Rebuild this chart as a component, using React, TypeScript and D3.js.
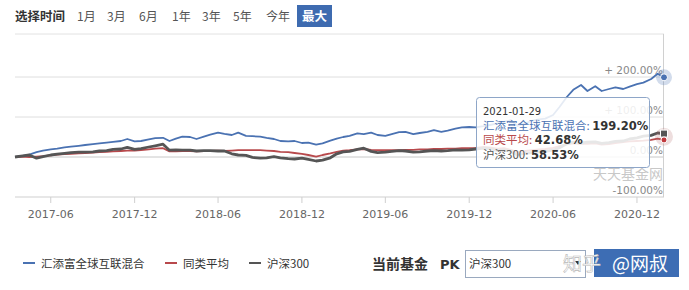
import React from "react";
import * as d3 from "d3";

const dates = [
  "2017-03-15","2017-04-01","2017-04-15","2017-05-01","2017-05-15","2017-06-01","2017-06-15","2017-07-01","2017-07-15","2017-08-01","2017-08-15","2017-09-01","2017-09-15","2017-10-01","2017-10-15","2017-11-01","2017-11-15","2017-12-01","2017-12-15",
  "2018-01-01","2018-01-15","2018-02-01","2018-02-15","2018-03-01","2018-03-15","2018-04-01","2018-04-15","2018-05-01","2018-05-15","2018-06-01","2018-06-15","2018-07-01","2018-07-15","2018-08-01","2018-08-15","2018-09-01","2018-09-15","2018-10-01","2018-10-15","2018-11-01","2018-11-15","2018-12-01","2018-12-15",
  "2019-01-01","2019-01-15","2019-02-01","2019-02-15","2019-03-01","2019-03-15","2019-04-01","2019-04-15","2019-05-01","2019-05-15","2019-06-01","2019-06-15","2019-07-01","2019-07-15","2019-08-01","2019-08-15","2019-09-01","2019-09-15","2019-10-01","2019-10-15","2019-11-01","2019-11-15","2019-12-01","2019-12-15",
  "2020-01-01","2020-01-15","2020-02-01","2020-02-15","2020-03-01","2020-03-15","2020-04-01","2020-04-15","2020-05-01","2020-05-15","2020-06-01","2020-06-15","2020-07-01","2020-07-15","2020-08-01","2020-08-15","2020-09-01","2020-09-15","2020-10-01","2020-10-15","2020-11-01","2020-11-15","2020-12-01","2020-12-15",
  "2021-01-01","2021-01-15","2021-01-29"
];

const fundValues = [
  0,3,6,12,16,19,21,24,26,28,30,32,34,36,38,40,45,39,40,
  44,47,48,40,46,51,50,45,51,56,61,58,55,61,53,52,51,48,45,40,39,40,35,36,
  31,34,41,46,50,53,59,57,61,55,53,57,62,63,57,60,63,67,63,66,71,74,75,74,
  77,80,84,88,92,78,84,90,94,96,105,125,150,168,180,165,177,165,170,174,170,176,182,186,
  195,208,199.2
];

const avgValues = [
  0,1,0,1,2,4,6,7,8,9,10,11,12,13,14,15,16,16,17,
  19,21,22,14,14,15,15,14,15,15,16,15,16,17,17,17,17,16,15,13,12,10,8,5,
  1,5,9,13,16,17,19,20,18,17,17,17,17,18,18,19,19,20,20,21,21,22,22,23,
  25,24,21,22,18,12,15,17,19,20,23,27,32,34,33,33,34,31,32,35,37,39,40,41,
  43,46,42.68
];

const hs300Values = [
  0,3,5,-3,1,5,7,9,11,12,12,13,15,16,19,20,24,19,21,
  25,28,32,17,18,17,17,15,16,16,15,15,8,5,4,-1,-3,-2,1,-2,-4,-5,-3,-6,
  -10,-8,-2,8,13,14,19,22,14,11,12,14,16,15,12,13,15,16,15,16,18,17,18,20,
  22,21,16,18,14,5,9,11,13,14,17,23,33,37,35,37,38,34,36,39,40,45,48,52,
  54,60,58.53
];

const yTicks = [200, 100, 0, -100];
const yTickLabels = ["+ 200.00%", "+ 100.00%", "0.00%", "-100.00%"];
const periodItems = ["1月", "3月", "6月", "1年", "3年", "5年", "今年"];
const periodX = [77, 107, 139, 172, 202, 233, 266];
const seriesNames = ["汇添富全球互联混合", "同类平均", "沪深300"];
const tooltipDate = "2021-01-29";
const tooltipValues = ["199.20%", "42.68%", "58.53%"];

const COLORS = ["#4a72b2", "#b8494c", "#555555"];
const CJK = '"Noto Sans CJK SC", "Microsoft YaHei", sans-serif';
const LAT = '"DejaVu Sans", "Noto Sans CJK SC", sans-serif';

export default function App() {
  const W = 689, H = 290;
  const parse = d3.timeParse("%Y-%m-%d");
  const ds = dates.map((d) => parse(d) as Date);
  const x = d3.scaleTime().domain([ds[0], ds[ds.length - 1]]).range([15, 664]);
  const y = d3.scaleLinear().domain([-100, 300]).range([197, 37]);
  const mk = (vals: number[]) =>
    d3.line<number>().x((_, i) => x(ds[i])).y((v) => y(v)).curve(d3.curveLinear)(vals) || "";
  const xTicks = d3.timeMonth.range(new Date(2017, 5, 1), new Date(2021, 0, 2), 6);
  const fmt = d3.timeFormat("%Y-%m");
  const last = ds.length - 1;
  const ex = x(ds[last]);

  return (
    <div style={{ position: "absolute", left: 0, top: 0, width: W, height: H, background: "#fff" }}>
      <svg width={W} height={H} style={{ display: "block" }}>
        <rect x={0} y={0} width={W} height={H} fill="#fff" />
        {/* period selector */}
        <text x={15} y={21} fontFamily={CJK} fontSize={12.5} fontWeight="bold" fill="#333">选择时间</text>
        {periodItems.map((p, i) => (
          <text key={p} x={periodX[i]} y={21} fontFamily={CJK} fontSize={12} fill="#555">{p}</text>
        ))}
        <rect x={297} y={5} width={35} height={22} fill="#3e6bb0" />
        <text x={314.5} y={21} textAnchor="middle" fontFamily={CJK} fontSize={12.5} fontWeight="bold" fill="#fff">最大</text>
        <line x1={15} x2={664} y1={34} y2={34} stroke="#e2e2e2" />

        {/* grid */}
        {yTicks.map((t) => (
          <line key={t} x1={15} x2={664} y1={y(t)} y2={y(t)} stroke={t === 0 ? "#c8c8c8" : t === -100 ? "#cfcfcf" : "#dedede"} strokeWidth={1} />
        ))}
        <line x1={663.5} x2={663.5} y1={34} y2={197} stroke="#d0d0d0" />
        {xTicks.map((d) => (
          <g key={+d}>
            <line x1={x(d)} x2={x(d)} y1={197} y2={203} stroke="#cfcfcf" />
            <text x={x(d)} y={218} textAnchor="middle" fontFamily={LAT} fontSize={11} fill="#666">{fmt(d)}</text>
          </g>
        ))}
        {yTicks.map((t, i) => (
          <text key={t} x={663} y={y(t) - 3.5} textAnchor="end" fontFamily={LAT} fontSize={10.5} fill="#888">{yTickLabels[i]}</text>
        ))}
        <text x={663} y={179} textAnchor="end" fontFamily={CJK} fontSize={14} fill="#c8c8c8">天天基金网</text>

        {/* series */}
        <path d={mk(fundValues)} fill="none" stroke={COLORS[0]} strokeWidth={1.8} strokeLinejoin="round" />
        <path d={mk(avgValues)} fill="none" stroke={COLORS[1]} strokeWidth={1.8} strokeLinejoin="round" />
        <path d={mk(hs300Values)} fill="none" stroke={COLORS[2]} strokeWidth={2.8} strokeLinejoin="round" />

        {/* end markers */}
        <circle cx={ex} cy={y(fundValues[last])} r={8} fill={COLORS[0]} opacity={0.25} />
        <circle cx={ex} cy={y(fundValues[last])} r={3.5} fill={COLORS[0]} stroke="#fff" strokeWidth={1} />
        <circle cx={ex} cy={(y(hs300Values[last]) + y(avgValues[last])) / 2} r={9} fill="#b06a6a" opacity={0.22} />
        <rect x={ex - 3.5} y={y(hs300Values[last]) - 3.5} width={7} height={7} fill={COLORS[2]} stroke="#fff" strokeWidth={1} />
        <circle cx={ex} cy={y(avgValues[last])} r={3} fill="#c0393d" stroke="#fff" strokeWidth={1} />

        {/* tooltip */}
        <rect x={476.5} y={97.5} width={173} height={70} rx={3} fill="#fff" fillOpacity={0.86} stroke="#8ea6c8" strokeWidth={1} />
        <text x={483} y={115} fontFamily={LAT} fontSize={10} fill="#333">{tooltipDate}</text>
        {seriesNames.map((n, i) => (
          <text key={n} x={483} y={129.5 + i * 14.5} fontFamily={CJK} fontSize={11.5}>
            <tspan fill={COLORS[i]}>{n}: </tspan>
            <tspan fill="#333" fontWeight="bold" fontFamily={LAT} fontSize={11.5}>{tooltipValues[i]}</tspan>
          </text>
        ))}

        {/* legend */}
        {seriesNames.map((n, i) => {
          const lx = [23, 165, 249][i];
          return (
            <g key={n}>
              <line x1={lx} x2={lx + 12} y1={263} y2={263} stroke={COLORS[i]} strokeWidth={2} />
              <text x={lx + 18} y={267.5} fontFamily={CJK} fontSize={11.5} fill="#333">{n}</text>
            </g>
          );
        })}
        <text x={372} y={269} fontFamily={CJK} fontSize={14} fontWeight="bold" fill="#333">当前基金</text>
        <text x={440} y={269} fontFamily={LAT} fontSize={13} fontWeight="bold" fill="#333">PK</text>
        <rect x={465.5} y={250.5} width={120} height={27} fill="#fff" stroke="#9aa9bf" />
        <text x={469} y={268} fontFamily={CJK} fontSize={11.5} fill="#333">沪深300</text>
        <path d="M575,261 L581,261 L578,265 Z" fill="#333" />
        <rect x={594} y={249} width={85} height={28} fill="#3d6db4" />
        <text x={563} y={271} fontFamily={CJK} fontSize={19} fill="#fff" stroke="#b9b9b9" strokeWidth={0.6}>知乎</text>
        <text x={612} y={271} fontFamily={CJK} fontSize={19} fill="#fff">@网叔</text>
      </svg>
    </div>
  );
}
